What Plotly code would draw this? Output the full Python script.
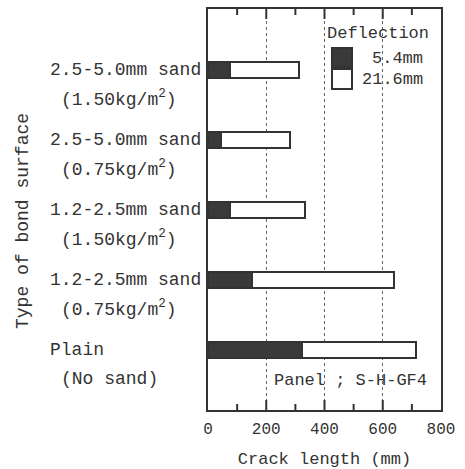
import plotly.graph_objects as go

# Bond surface types, listed bottom to top
surfaces = ["Plain", "1.2-2.5mm sand", "1.2-2.5mm sand", "2.5-5.0mm sand", "2.5-5.0mm sand"]
amounts = ["(No sand)", "(0.75kg/m<sup>2</sup>)", "(1.50kg/m<sup>2</sup>)",
           "(0.75kg/m<sup>2</sup>)", "(1.50kg/m<sup>2</sup>)"]
positions = [0, 1, 2, 3, 4]

# Crack length (mm) at each mid-span deflection
crack_5_4 = [324, 152, 75, 45, 75]
crack_21_6 = [715, 637, 334, 283, 314]

# Crack-length tick marks on the bottom and top frame edges
major_ticks = [200, 400, 600]
minor_ticks = [100, 300, 500, 700]

W, H = 465, 469
ML, MR, MT, MB = 208, 24, 9, 59
PW, PH = W - ML - MR, H - MT - MB
FONT = "Liberation Mono, Courier New, monospace"
INK = "#333333"


def px(x):
    return (x - ML) / PW


def py(y):
    return (H - MB - y) / PH


fig = go.Figure()
fig.add_trace(go.Bar(
    y=positions, x=crack_21_6, orientation="h", width=0.24, name="21.6mm",
    marker=dict(color="white", line=dict(color=INK, width=2)), showlegend=False,
))
fig.add_trace(go.Bar(
    y=positions, x=crack_5_4, orientation="h", width=0.24, name="5.4mm",
    marker=dict(color="#3a3a3a", line=dict(color=INK, width=2)), showlegend=False,
))

annotations = []
for p, s, a in zip(positions, surfaces, amounts):
    annotations.append(dict(x=0, xref="paper", y=p, yref="y", text=s, showarrow=False,
                            xanchor="left", yanchor="middle", xshift=48 - ML,
                            font=dict(family=FONT, size=18, color=INK)))
    annotations.append(dict(x=0, xref="paper", y=p, yref="y", text=a, showarrow=False,
                            xanchor="left", yanchor="middle", xshift=59 - ML, yshift=-29,
                            font=dict(family=FONT, size=18, color=INK)))

# Y-axis title
annotations.append(dict(x=px(23), xref="paper", y=py(221), yref="paper",
                        text="Type of bond surface", textangle=-90, showarrow=False,
                        xanchor="center", yanchor="middle",
                        font=dict(family=FONT, size=18, color=INK)))

# Legend block
annotations += [
    dict(x=px(325), y=py(33), xref="paper", yref="paper", text="Deflection", showarrow=False,
         xanchor="left", yanchor="middle", font=dict(family=FONT, size=17, color=INK)),
    dict(x=px(425), y=py(58), xref="paper", yref="paper", text="5.4mm", showarrow=False,
         xanchor="right", yanchor="middle", font=dict(family=FONT, size=17, color=INK)),
    dict(x=px(425), y=py(79), xref="paper", yref="paper", text="21.6mm", showarrow=False,
         xanchor="right", yanchor="middle", font=dict(family=FONT, size=17, color=INK)),
    dict(x=px(429), y=py(380), xref="paper", yref="paper", text="Panel ; S-H-GF4",
         showarrow=False, xanchor="right", yanchor="middle",
         font=dict(family=FONT, size=17, color=INK)),
]

shapes = [
    dict(type="rect", xref="paper", yref="paper", x0=px(332), x1=px(352), y0=py(67), y1=py(48),
         fillcolor="#3a3a3a", line=dict(color=INK, width=2)),
    dict(type="rect", xref="paper", yref="paper", x0=px(332), x1=px(352), y0=py(89), y1=py(69),
         fillcolor="white", line=dict(color=INK, width=2)),
]

# Inward tick marks on both bottom and top edges
for ticks, length in ((major_ticks, 10), (minor_ticks, 6)):
    frac = length / PH
    for v in ticks:
        for y0, y1 in ((0, frac), (1, 1 - frac)):
            shapes.append(dict(type="line", xref="x", x0=v, x1=v,
                               yref="paper", y0=y0, y1=y1,
                               line=dict(color=INK, width=2)))

fig.update_layout(
    width=W, height=H, margin=dict(l=ML, r=MR, t=MT, b=MB),
    paper_bgcolor="white", plot_bgcolor="white",
    barmode="overlay", bargap=0,
    annotations=annotations, shapes=shapes,
    font=dict(family=FONT, color=INK),
)
fig.update_xaxes(
    range=[0, 800], tick0=0, dtick=200, ticks="",
    showline=True, linewidth=2, linecolor=INK, mirror=True,
    showgrid=True, gridcolor="#666666", gridwidth=1, griddash="dot",
    zeroline=False, automargin=False,
    tickfont=dict(family=FONT, size=16, color=INK),
    ticklabelstandoff=3,
    title=dict(text="Crack length (mm)", font=dict(family=FONT, size=17, color=INK), standoff=14),
)
fig.update_yaxes(
    range=[-0.857, 4.87], showticklabels=False, ticks="",
    showline=True, linewidth=2, linecolor=INK, mirror=True,
    showgrid=False, zeroline=False,
)

fig.write_html("out.html")
